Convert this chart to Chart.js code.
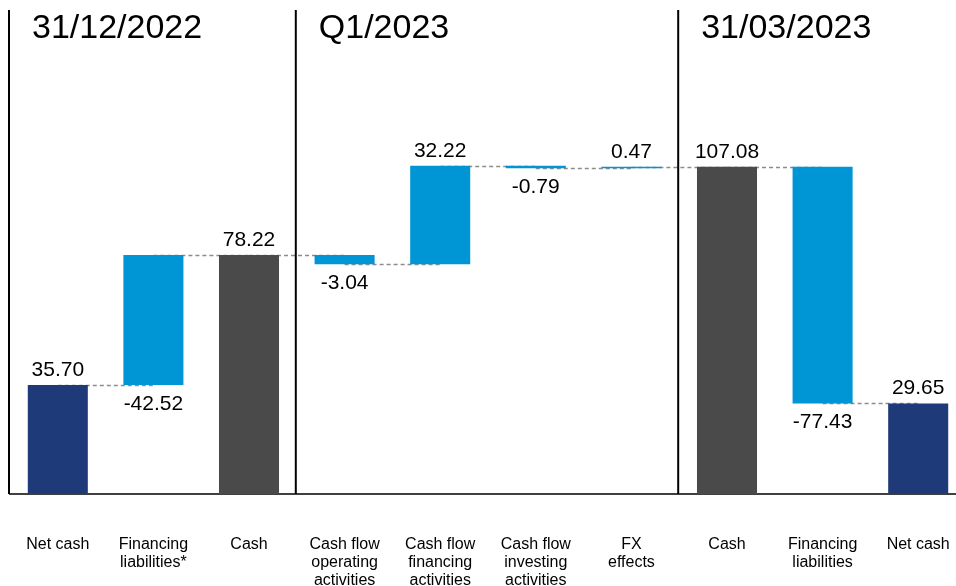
<!DOCTYPE html>
<html>
<head>
<meta charset="utf-8">
<script src="https://cdn.jsdelivr.net/npm/chart.js@4.4.1/dist/chart.umd.min.js"></script>
<style>
  html, body { margin: 0; padding: 0; background: #fff; overflow: hidden; }
  #wrap { position: absolute; left: 0; top: 0; }
</style>
</head>
<body>
<div id="wrap"><canvas id="waterfall" width="966" height="586"></canvas></div>
<script>
// chart data
const categories = [
  ['Net cash'], ['Financing', 'liabilities*'], ['Cash'],
  ['Cash flow', 'operating', 'activities'], ['Cash flow', 'financing', 'activities'],
  ['Cash flow', 'investing', 'activities'], ['FX', 'effects'],
  ['Cash'], ['Financing', 'liabilities'], ['Net cash']
];
const values = [35.70, -42.52, 78.22, -3.04, 32.22, -0.79, 0.47, 107.08, -77.43, 29.65];
const kinds = ['total', 'step', 'total', 'step', 'step', 'step', 'step', 'total', 'step', 'total'];
// left block reads backwards (net cash -> cash), so the liability step goes up
const direction = [1, -1, 1, 1, 1, 1, 1, 1, 1, 1];
const sections = ['31/12/2022', 'Q1/2023', '31/03/2023'];
const sectionStarts = [0, 3, 7];

const colors = {
  net: '#1f3a78',
  cash: '#4a4a4a',
  step: '#0096d6'
};

// build floating ranges
let level = 0;
const ranges = [];
const endLevels = [];
values.forEach((v, i) => {
  if (kinds[i] === 'total') {
    ranges.push([0, v]);
    level = v;
  } else {
    const end = level + direction[i] * v;
    ranges.push([level, end]);
    level = end;
  }
  endLevels.push(level);
});

const barColors = values.map((v, i) => {
  if (kinds[i] === 'step') return colors.step;
  return categories[i][0] === 'Cash' ? colors.cash : colors.net;
});

const decoPlugin = {
  id: 'deco',
  beforeDatasetsDraw(chart) {
    const ctx = chart.ctx;
    const x = chart.scales.x, y = chart.scales.y;
    ctx.save();
    ctx.strokeStyle = '#8c8c8c';
    ctx.lineWidth = 1.5;
    ctx.setLineDash([4, 3]);
    for (let i = 0; i < endLevels.length - 1; i++) {
      const py = Math.round(y.getPixelForValue(endLevels[i])) + 0.5;
      ctx.beginPath();
      ctx.moveTo(x.getPixelForValue(i), py);
      ctx.lineTo(x.getPixelForValue(i + 1), py);
      ctx.stroke();
    }
    ctx.restore();
  },
  afterDatasetsDraw(chart) {
    const ctx = chart.ctx;
    const area = chart.chartArea;
    const x = chart.scales.x, y = chart.scales.y;
    ctx.save();
    // vertical lines: left edge and section separators
    ctx.strokeStyle = '#000';
    ctx.lineWidth = 2;
    const lineXs = [area.left - 1];
    sectionStarts.slice(1).forEach(s => {
      lineXs.push((x.getPixelForValue(s - 1) + x.getPixelForValue(s)) / 2 - 1);
    });
    lineXs.forEach(lx => {
      ctx.beginPath();
      ctx.moveTo(lx, 10);
      ctx.lineTo(lx, area.bottom);
      ctx.stroke();
    });
    // section headers
    ctx.fillStyle = '#000';
    ctx.font = '34px "Liberation Sans", Arial, sans-serif';
    ctx.textAlign = 'left';
    ctx.textBaseline = 'alphabetic';
    sections.forEach((t, i) => {
      ctx.fillText(t, lineXs[i] + 23, 38);
    });
    // value labels
    ctx.font = '21px "Liberation Sans", Arial, sans-serif';
    ctx.textAlign = 'center';
    ctx.textBaseline = 'middle';
    const meta = chart.getDatasetMeta(0);
    meta.data.forEach((bar, i) => {
      const r = ranges[i];
      const hi = y.getPixelForValue(Math.max(r[0], r[1]));
      const lo = y.getPixelForValue(Math.min(r[0], r[1]));
      const ty = values[i] < 0 ? lo + 19 : hi - 15;
      ctx.fillText(values[i].toFixed(2), bar.x, ty);
    });
    ctx.restore();
  }
};

new Chart(document.getElementById('waterfall'), {
  type: 'bar',
  data: {
    labels: categories,
    datasets: [{
      data: ranges,
      backgroundColor: barColors,
      borderWidth: 0,
      barPercentage: 0.628,
      categoryPercentage: 1
    }]
  },
  options: {
    responsive: false,
    animation: false,
    layout: { padding: { left: 10, right: 0, top: 5, bottom: 0 } },
    plugins: {
      legend: { display: false },
      tooltip: { enabled: false }
    },
    scales: {
      x: {
        grid: { display: false },
        border: { display: true, color: '#404040', width: 2 },
        ticks: {
          color: '#000',
          padding: 34,
          maxRotation: 0,
          autoSkip: false,
          font: { family: '"Liberation Sans", Arial, sans-serif', size: 16, lineHeight: 1.125 }
        },
        afterFit(scale) {
          // keep the plot full width and the axis at a fixed height
          scale.paddingLeft = 0;
          scale.paddingRight = 0;
          scale.height = 92;
        }
      },
      y: {
        display: false,
        min: 0,
        max: 160
      }
    }
  },
  plugins: [decoPlugin]
});
</script>
</body>
</html>
